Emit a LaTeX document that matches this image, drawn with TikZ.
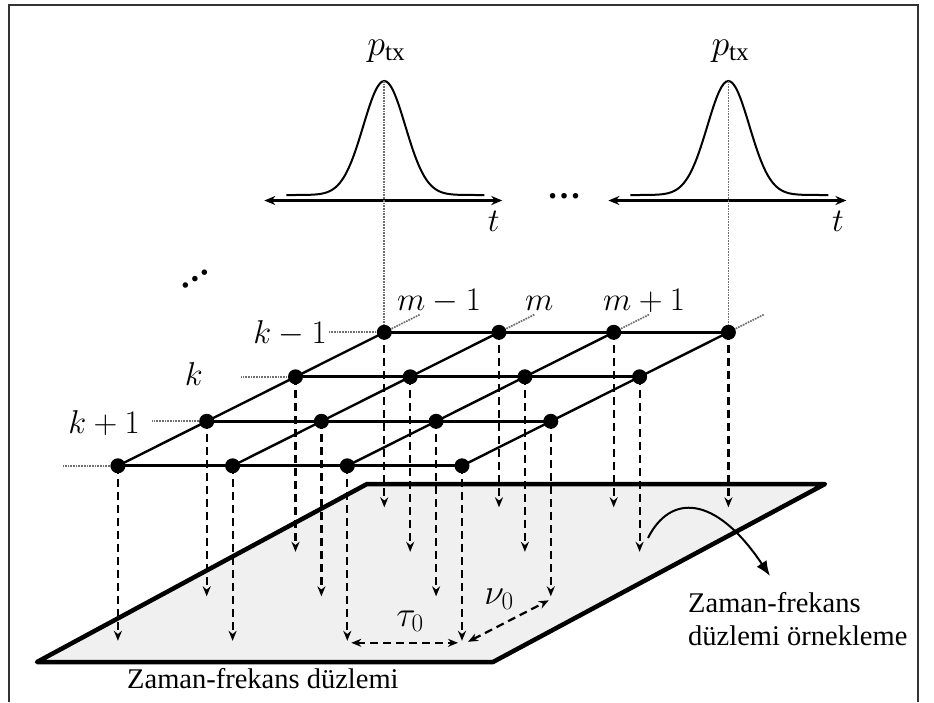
\RequirePackage{fix-cm}
\documentclass[tikz,border=0pt]{standalone}
\usepackage{fontspec}
\setmainfont{Liberation Serif}
\usepackage{amsmath}
\usetikzlibrary{arrows.meta,positioning,calc}
\definecolor{planegray}{HTML}{F0F0F0}
\definecolor{guidegray}{HTML}{707070}
\definecolor{framegray}{HTML}{333333}
\tikzset{
  gridpt/.style={circle,fill=black,inner sep=0pt,minimum size=15pt},
  guide/.style={guidegray,line width=1.7pt,densely dotted},
  drop/.style={line width=2.2pt,dash pattern=on 8pt off 5pt,-{Stealth[length=10pt,width=8pt]}},
  dimline/.style={line width=2.2pt,dash pattern=on 8pt off 5pt,
    {Stealth[length=10pt,width=8pt]}-{Stealth[length=10pt,width=8pt]}},
  lbl/.style={inner sep=0pt,font=\fontsize{33}{36}\selectfont},
  biglbl/.style={inner sep=0pt,font=\fontsize{36}{40}\selectfont},
  textlbl/.style={inner sep=0pt,font=\fontsize{28.5}{33.3}\selectfont},
  dotsfont/.style={inner sep=0pt,font=\fontsize{34}{34}\selectfont\bfseries},
}

\begin{document}
\begin{tikzpicture}[x=1pt,y=-1pt]
  \useasboundingbox (0,0) rectangle (934,702);
  \draw[framegray,line width=2pt] (9,702) -- (9,5) -- (918,5) -- (918,702);

  % time-frequency plane
  \coordinate (pa) at (37,662);
  \coordinate (pb) at (367,484);
  \coordinate (pc) at (825,484);
  \coordinate (pd) at (493,662);
  \filldraw[fill=planegray,line width=4.5pt,line join=round] (pa) -- (pb) -- (pc) -- (pd) -- cycle;

  % sampling grid
  \foreach \j in {0,...,3}
    \foreach \i in {0,...,3}
      \coordinate (g\i\j) at ({384.3+114.7*\i-88.8*\j},{332.3+44.5*\j});
  \foreach \j in {0,...,3}
    \foreach \i in {0,...,3}
      \draw[drop] (g\i\j) -- ++(0,175) coordinate (d\i\j);
  \foreach \j in {0,...,3} {
    \draw[guide] (g0\j) -- ++(-55,0) coordinate (r\j);
    \draw[line width=2.8pt] (g0\j) -- (g3\j);
  }
  \foreach \i in {0,...,3} {
    \draw[guide] (g\i0) -- ++(36,-18);
    \draw[line width=2.4pt] (g\i3) -- (g\i0);
  }
  \foreach \j in {0,...,3}
    \foreach \i in {0,...,3}
      \node[gridpt] (p\i\j) at (g\i\j) {};

  % transmitted pulses
  \foreach \c/\s in {384.3/a,728.4/b} {
    \draw[line width=2pt] plot[domain=-98:100,samples=90,smooth]
      ({\c+\x},{195-114*exp(-0.5*(\x/21)*(\x/21))});
    \coordinate (peak\s) at (\c,81);
    \draw[line width=2.8pt,{Stealth[length=11pt,width=9pt]}-{Stealth[length=11pt,width=9pt]}]
      ({\c-120},200.5) -- ({\c+118},200.5);
    \node[lbl,anchor=base] (t\s) at ({\c+109.5},231) {$t$};
    \node[biglbl,anchor=base] (ptx\s) at ({\c+2},55) {$p_{\mathrm{tx}}$};
  }
  \draw[guide] (peaka) -- (p00);
  \draw[guide] (peakb) -- (p30);
  \node[dotsfont] (hdots) at (564,196) {…};
  \node[dotsfont,rotate=34] (udots) at (195,279.5) {…};

  % grid labels
  \node[lbl,anchor=base east] (kprev) at (327,343) {$k-1$};
  \node[lbl,anchor=base east] (kcur) at (203,385) {$k$};
  \node[lbl,anchor=base east] (knext) at (140,433) {$k+1$};
  \node[lbl,anchor=base west] (mprev) at (397,310) {$m-1$};
  \node[lbl,anchor=base west] (mcur) at (525,310) {$m$};
  \node[lbl,anchor=base west] (mnext) at (603,310) {$m+1$};

  % spacings
  \draw[dimline] ([shift={(4,2)}]d23) -- ([shift={(-4,2)}]d33);
  \draw[dimline] ([shift={(6,1)}]d33) -- ([shift={(-2,4)}]d32);
  \node[biglbl,anchor=base] (tau) at (410,626) {$\tau_0$};
  \node[biglbl,anchor=base] (nu) at (499,604) {$\nu_0$};

  % texts
  \node[textlbl,anchor=base west] (plane) at (127,688) {Zaman-frekans düzlemi};
  \node[textlbl,anchor=north west,align=left] (sampling) at (688,592)
    {Zaman-frekans\\düzlemi örnekleme};
  \coordinate (bend) at (648,538);
  \draw[line width=2pt,-{Latex[length=15pt,width=12pt]}]
    (bend) .. controls (670,494) and (715,494) .. (770,576);
\end{tikzpicture}
\end{document}
